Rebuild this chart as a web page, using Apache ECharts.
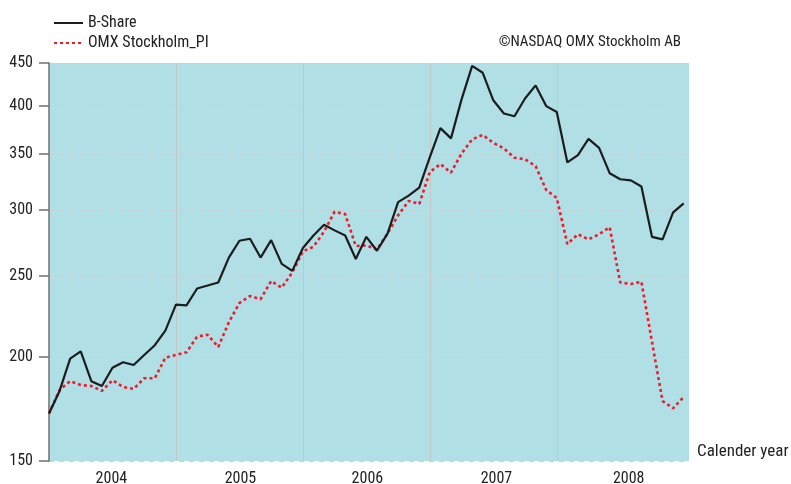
<!DOCTYPE html>
<html>
<head>
<meta charset="utf-8">
<script src="https://cdn.jsdelivr.net/npm/echarts@6/dist/echarts.min.js"></script>
<style>
html,body{margin:0;padding:0;background:#fff;}
#chart{width:791px;height:484px;}
</style>
</head>
<body>
<div id="chart"></div>
<script>
// Month-end observations, Dec 2003 .. Dec 2008 (index 0..60)
const monthIndex = Array.from({length: 61}, (_, i) => i);
const bShare = [
  171, 182, 199, 203, 187, 184.5, 194, 197, 195.5, 201, 206.5, 215,
  231, 230.5, 241.5, 243.5, 245.5, 263, 275.5, 277, 263, 276, 258.5, 253.5,
  270, 279.5, 288, 283.5, 279.5, 262, 278.5, 268, 281, 306.5, 312, 319,
  347, 376, 365.5, 407, 446.5, 438, 406, 391.5, 388.5, 408, 423, 399.5,
  393, 342, 349, 365, 356, 332, 326.5, 325.5, 320, 278.5, 276.5, 298, 305.5
];
const omxPI = [
  171, 182.5, 187, 185, 184.5, 182, 187.5, 184, 183, 188.5, 188.5, 199.5,
  201, 202.5, 211.5, 212.5, 205.5, 220, 232, 236.5, 234.5, 246.5, 242, 252.5,
  267.5, 271, 282.5, 298.5, 296.5, 271.5, 272, 269, 281, 295.5, 307.5, 305,
  333, 340.5, 332.5, 350.5, 364.5, 369, 361, 355.5, 346.5, 345, 338.5, 317,
  310, 273, 280.5, 276.5, 280.5, 286, 245.5, 244.5, 246, 208.5, 177, 173.5, 179
];
const seriesNames = ['B-Share', 'OMX Stockholm_PI'];
const yTicks = [150, 200, 250, 300, 350, 400, 450];
const yearBoundaries = [12, 24, 36, 48];
const yearLabelPos = [5.9, 18.1, 30.1, 42.3, 54.8];
const firstYear = 2004;
const copyright = '©NASDAQ OMX Stockholm AB';
const xAxisName = 'Calender year';

const FONT = "'Roboto Condensed', sans-serif";
const lg = v => Math.log10(v);

const chart = echarts.init(document.getElementById('chart'), null, {renderer: 'canvas'});
chart.setOption({
  animation: false,
  textStyle: {fontFamily: FONT, color: '#222'},
  title: {
    text: copyright,
    right: 105, top: 30,
    textStyle: {fontFamily: FONT, fontSize: 15, fontWeight: 'normal', color: '#222'}
  },
  legend: {
    orient: 'vertical',
    left: 48, top: 10,
    itemWidth: 29, itemHeight: 14, itemGap: 4,
    textStyle: {fontFamily: FONT, fontSize: 16, color: '#222', lineHeight: 16},
    itemStyle: {opacity: 0},
    data: seriesNames
  },
  grid: {
    left: 49, right: 102, top: 63, bottom: 23,
    outerBoundsMode: 'none', containLabel: false,
    show: true, backgroundColor: '#b0dfe6', borderWidth: 0
  },
  xAxis: {
    type: 'value', min: 0, max: 60.5,
    name: xAxisName, nameLocation: 'end', nameGap: 8,
    nameTextStyle: {fontFamily: FONT, fontSize: 17, color: '#222', verticalAlign: 'bottom', lineHeight: 18},
    axisLine: {show: false},
    axisTick: {show: false, customValues: yearBoundaries},
    splitLine: {show: true, lineStyle: {color: '#c6c6c6', width: 1, type: 'solid'}},
    axisLabel: {
      customValues: yearLabelPos, margin: 10,
      fontFamily: FONT, fontSize: 16, color: '#222',
      formatter: v => String(firstYear + Math.floor(v / 12))
    }
  },
  yAxis: {
    type: 'value', min: lg(yTicks[0]), max: lg(yTicks[yTicks.length - 1]),
    axisLine: {show: true, lineStyle: {color: '#707070', width: 1.5}},
    axisTick: {show: true, inside: false, length: 10, customValues: yTicks.map(lg), lineStyle: {color: '#707070', width: 1.5}},
    splitLine: {show: true, lineStyle: {color: '#cfcfcf', width: 1, type: [5, 5]}},
    axisLabel: {
      customValues: yTicks.map(lg), margin: 16,
      fontFamily: FONT, fontSize: 16, color: '#222',
      formatter: v => String(Math.round(Math.pow(10, v)))
    }
  },
  series: [
    {
      name: seriesNames[0], type: 'line', symbol: 'none', z: 3,
      data: monthIndex.map((m, i) => [m, lg(bShare[i])]),
      lineStyle: {color: '#1c1c1c', width: 2.2}, itemStyle: {color: '#1c1c1c'}
    },
    {
      name: seriesNames[1], type: 'line', symbol: 'none', z: 2,
      data: monthIndex.map((m, i) => [m, lg(omxPI[i])]),
      lineStyle: {color: '#ec1c2a', width: 2.6, type: [3, 3]}, itemStyle: {color: '#ec1c2a'}
    }
  ]
});
</script>
</body>
</html>
